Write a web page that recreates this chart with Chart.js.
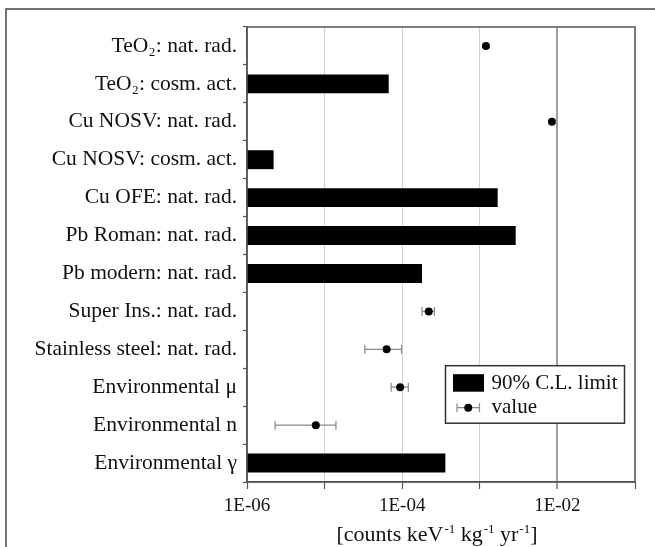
<!DOCTYPE html>
<html>
<head>
<meta charset="utf-8">
<script src="https://cdn.jsdelivr.net/npm/chart.js@4/dist/chart.umd.min.js"></script>
<style>
  html, body { margin: 0; padding: 0; background: #fff; }
  canvas { display: block; }
</style>
</head>
<body>
<canvas id="chart" width="655" height="547"></canvas>
<script>
// Background contributions, one row per source
const categories = [
  'TeO₂: nat. rad.',
  'TeO₂: cosm. act.',
  'Cu NOSV: nat. rad.',
  'Cu NOSV: cosm. act.',
  'Cu OFE: nat. rad.',
  'Pb Roman: nat. rad.',
  'Pb modern: nat. rad.',
  'Super Ins.: nat. rad.',
  'Stainless steel: nat. rad.',
  'Environmental μ',
  'Environmental n',
  'Environmental γ'
];

// 90% C.L. upper limits [counts keV-1 kg-1 yr-1]
const limitValues = [null, 6.7e-5, null, 2.2e-6, 1.7e-3, 2.9e-3, 1.8e-4, null, null, null, null, 3.6e-4];

// Measured values with their uncertainty range
const measuredValues = [1.2e-3, null, 8.5e-3, null, null, null, null, 2.2e-4, 6.3e-5, 9.4e-5, 7.7e-6, null];
const errLow  = [null, null, null, null, null, null, null, 1.8e-4, 3.3e-5, 7.2e-5, 2.3e-6, null];
const errHigh = [null, null, null, null, null, null, null, 2.6e-4, 9.8e-5, 1.2e-4, 1.4e-5, null];

// Decade ticks of the log axis, and those that carry a label
const tickValues = [1e-6, 1e-5, 1e-4, 1e-3, 1e-2, 1e-1];
const labeledTicks = [1e-6, 1e-4, 1e-2];

const seriesNames = ['90% C.L. limit', 'value'];

// Axis title pieces: [text, isSuperscript]
const axisTitleParts = [
  ['[counts keV', false], ['-1', true],
  [' kg', false], ['-1', true],
  [' yr', false], ['-1', true],
  [']', false]
];

const SERIF = '"Liberation Serif", "Times New Roman", "DejaVu Serif", serif';
const AXIS_GREY = '#555';
const ERR_GREY = '#8a8a8a';

function sameDecade(a, b) { return Math.abs(Math.log10(a) - Math.log10(b)) < 1e-6; }
function formatExp(v) {
  const e = Math.round(Math.log10(v));
  return '1E' + (e < 0 ? '-' : '+') + String(Math.abs(e)).padStart(2, '0');
}

// White page with the outer frame
const pageFrame = {
  id: 'pageFrame',
  beforeDraw(chart) {
    const ctx = chart.ctx;
    ctx.save();
    ctx.fillStyle = '#fff';
    ctx.fillRect(0, 0, chart.width, chart.height);
    ctx.strokeStyle = '#444';
    ctx.lineWidth = 1.5;
    ctx.strokeRect(6, 9, chart.width + 20, chart.height + 20);
    ctx.restore();
  }
};

// Horizontal error bars drawn under the measured points
const errorBars = {
  id: 'errorBars',
  beforeDatasetDraw(chart, args) {
    if (args.index !== 1) return;
    const xs = chart.scales.x, ys = chart.scales.y, ctx = chart.ctx;
    ctx.save();
    ctx.strokeStyle = ERR_GREY;
    ctx.lineWidth = 1.2;
    errLow.forEach((lo, i) => {
      const hi = errHigh[i];
      if (lo == null || hi == null) return;
      const y = ys.getPixelForValue(i);
      const x1 = xs.getPixelForValue(lo), x2 = xs.getPixelForValue(hi);
      ctx.beginPath();
      ctx.moveTo(x1, y); ctx.lineTo(x2, y);
      ctx.moveTo(x1, y - 4.5); ctx.lineTo(x1, y + 4.5);
      ctx.moveTo(x2, y - 4.5); ctx.lineTo(x2, y + 4.5);
      ctx.stroke();
    });
    ctx.restore();
  }
};

// Plot box, legend and the axis title with superscripts
const decorations = {
  id: 'decorations',
  afterDraw(chart) {
    const ctx = chart.ctx, a = chart.chartArea;
    ctx.save();

    // plot box
    ctx.strokeStyle = AXIS_GREY;
    ctx.lineWidth = 1.5;
    ctx.strokeRect(a.left, a.top, a.right - a.left, a.bottom - a.top);

    // legend
    const bw = 179, bh = 57.5;
    const bx = a.right - 10.5 - bw, by = a.bottom - 116.3;
    ctx.fillStyle = '#fff';
    ctx.fillRect(bx, by, bw, bh);
    ctx.strokeStyle = '#333';
    ctx.lineWidth = 1.5;
    ctx.strokeRect(bx, by, bw, bh);

    ctx.fillStyle = '#000';
    ctx.fillRect(bx + 7.5, by + 8.5, 31, 17.5);

    const ey = by + 42, ex1 = bx + 11.5, ex2 = bx + 34;
    ctx.strokeStyle = ERR_GREY;
    ctx.lineWidth = 1.2;
    ctx.beginPath();
    ctx.moveTo(ex1, ey); ctx.lineTo(ex2, ey);
    ctx.moveTo(ex1, ey - 4.5); ctx.lineTo(ex1, ey + 4.5);
    ctx.moveTo(ex2, ey - 4.5); ctx.lineTo(ex2, ey + 4.5);
    ctx.stroke();
    ctx.beginPath();
    ctx.fillStyle = '#000';
    ctx.arc((ex1 + ex2) / 2, ey, 4, 0, Math.PI * 2);
    ctx.fill();

    ctx.font = '21px ' + SERIF;
    ctx.fillStyle = '#111';
    ctx.textBaseline = 'middle';
    ctx.textAlign = 'left';
    ctx.fillText(seriesNames[0], bx + 46, by + 18);
    ctx.fillText(seriesNames[1], bx + 46, by + 42);

    // axis title
    const mainFont = '22px ' + SERIF, supFont = '13px ' + SERIF;
    let total = 0;
    axisTitleParts.forEach(([t, sup]) => {
      ctx.font = sup ? supFont : mainFont;
      total += ctx.measureText(t).width + (sup ? 1 : 0);
    });
    let x = (a.left + a.right) / 2 - 4 - total / 2;
    const base = 541;
    ctx.textBaseline = 'alphabetic';
    axisTitleParts.forEach(([t, sup]) => {
      ctx.font = sup ? supFont : mainFont;
      if (sup) x += 1;
      ctx.fillText(t, x, sup ? base - 8 : base);
      x += ctx.measureText(t).width;
    });

    ctx.restore();
  }
};

new Chart(document.getElementById('chart'), {
  type: 'bar',
  data: {
    labels: categories,
    datasets: [
      {
        type: 'bar',
        label: seriesNames[0],
        data: limitValues,
        backgroundColor: '#000',
        borderWidth: 0,
        barPercentage: 0.5,
        categoryPercentage: 1.0,
        order: 2
      },
      {
        type: 'line',
        label: seriesNames[1],
        data: measuredValues,
        showLine: false,
        pointRadius: 4,
        pointHoverRadius: 4,
        pointBackgroundColor: '#000',
        pointBorderWidth: 0,
        order: 1
      }
    ]
  },
  options: {
    indexAxis: 'y',
    responsive: false,
    animation: false,
    events: [],
    layout: { padding: { top: 27, right: 20, bottom: 0, left: 0 } },
    plugins: {
      legend: { display: false },
      tooltip: { enabled: false },
      title: { display: false }
    },
    scales: {
      x: {
        type: 'logarithmic',
        position: 'bottom',
        min: 1e-6,
        max: 1e-1,
        afterBuildTicks(scale) {
          scale.ticks = tickValues.map(v => ({ value: v, major: true }));
        },
        afterFit(scale) { scale.height = 65; },
        ticks: {
          autoSkip: false,
          maxRotation: 0,
          padding: 6,
          color: '#111',
          font: { family: SERIF, size: 19 },
          callback(value) {
            return labeledTicks.some(t => sameDecade(t, value)) ? formatExp(value) : '';
          }
        },
        grid: {
          drawTicks: true,
          tickLength: 7,
          tickColor: AXIS_GREY,
          tickWidth: 1.2,
          color(ctx) {
            const v = ctx.tick && ctx.tick.value;
            if (v && sameDecade(v, 1e-2)) return '#a0a0a0';
            return '#d2d2d2';
          },
          lineWidth(ctx) {
            const v = ctx.tick && ctx.tick.value;
            return v && sameDecade(v, 1e-2) ? 2 : 1;
          }
        },
        border: { color: AXIS_GREY, width: 1.5 }
      },
      y: {
        type: 'category',
        offset: true,
        afterFit(scale) { scale.width = 247; },
        ticks: {
          autoSkip: false,
          padding: 6,
          color: '#111',
          font: { family: SERIF, size: 21.5 }
        },
        grid: {
          offset: true,
          drawOnChartArea: false,
          drawTicks: true,
          tickLength: 4,
          tickColor: AXIS_GREY,
          tickWidth: 1.2
        },
        border: { color: AXIS_GREY, width: 1.5 }
      }
    }
  },
  plugins: [pageFrame, errorBars, decorations]
});
</script>
</body>
</html>
